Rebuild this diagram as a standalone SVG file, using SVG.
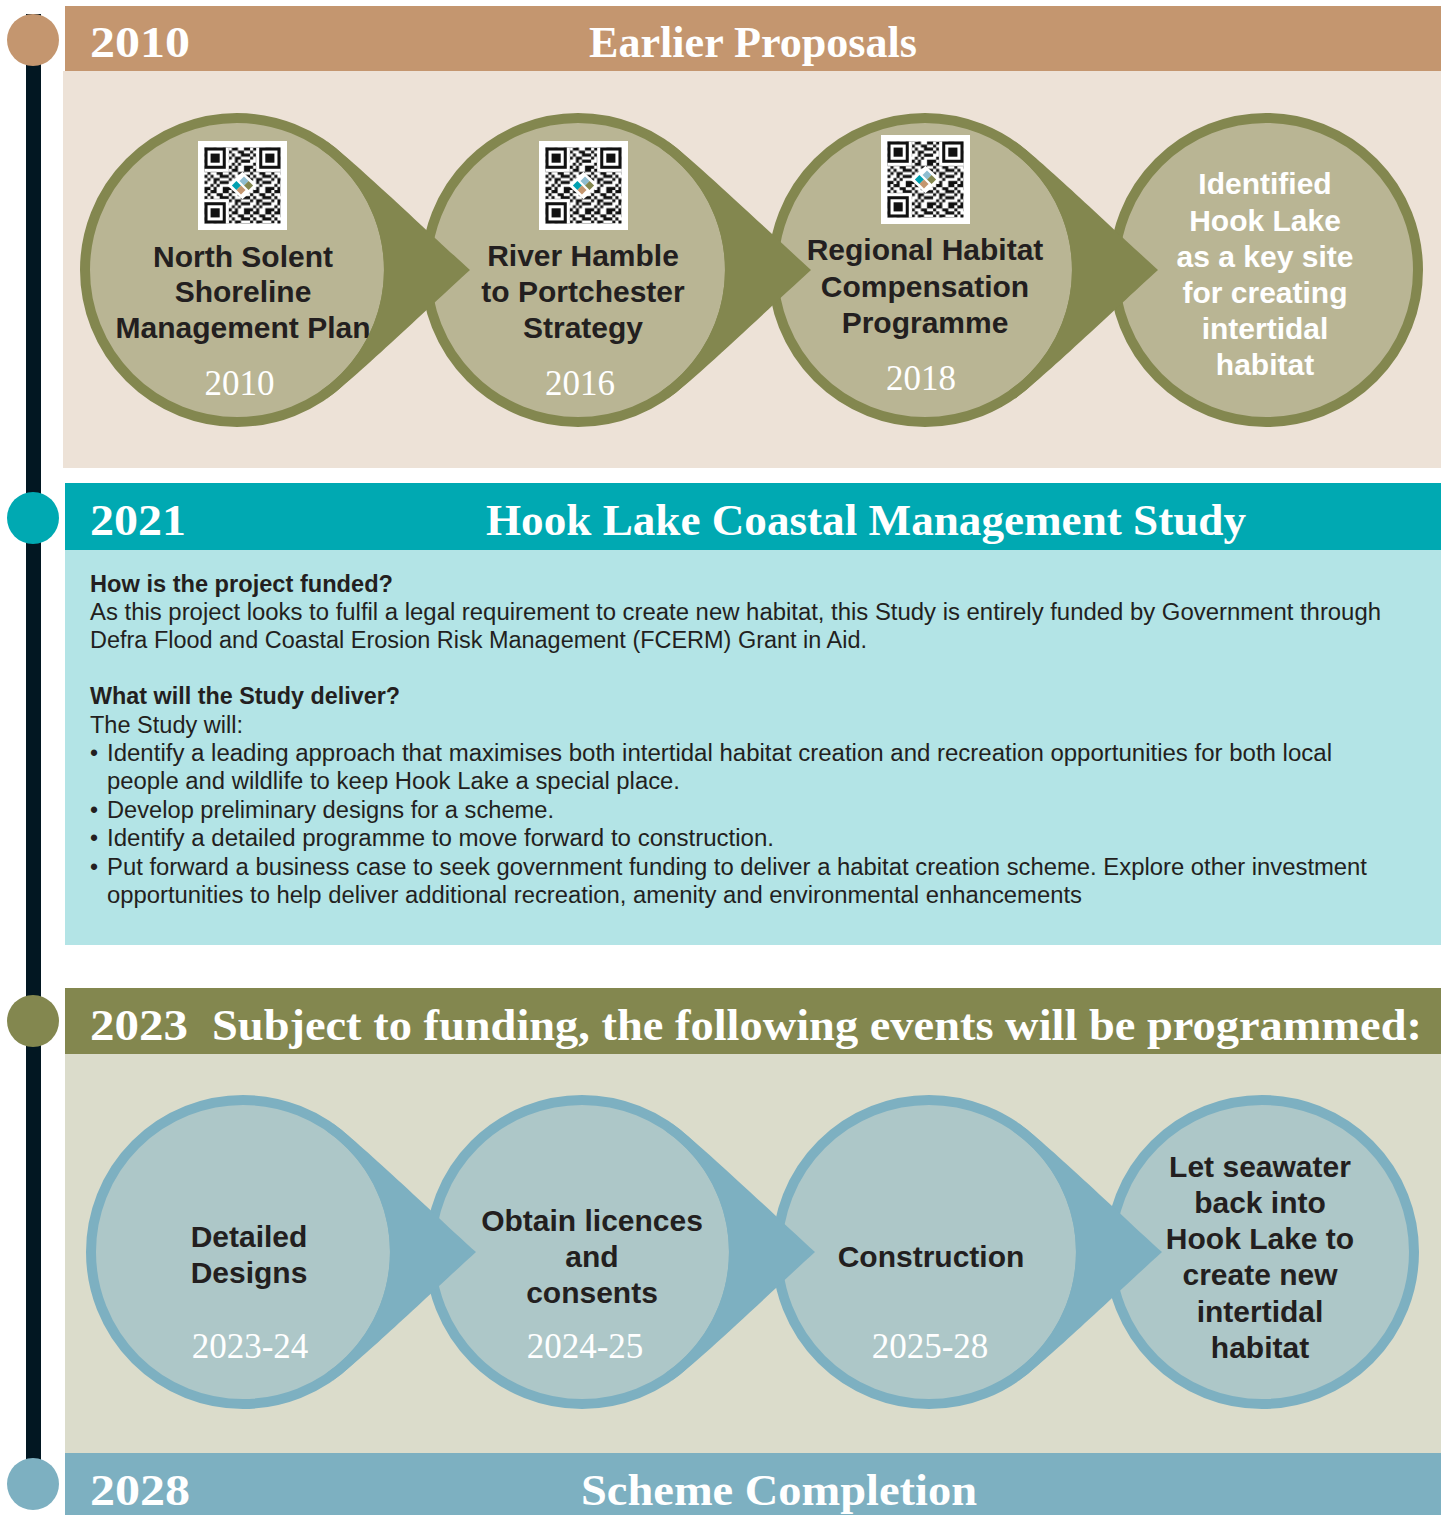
<svg xmlns="http://www.w3.org/2000/svg" xmlns:xlink="http://www.w3.org/1999/xlink" width="1447" height="1515" viewBox="0 0 1447 1515">
<style>
.hdr{font-family:"Liberation Serif","DejaVu Serif",serif;font-weight:bold;font-size:44px;fill:#fff}
.yr{font-family:"Liberation Serif","DejaVu Serif",serif;font-size:35px;fill:#fff;text-anchor:middle}
.lbl{font-family:"Liberation Sans",Arial,sans-serif;font-weight:bold;font-size:30px;fill:#231f20;text-anchor:middle}
.lblw{font-family:"Liberation Sans",Arial,sans-serif;font-weight:bold;font-size:30px;fill:#fff;text-anchor:middle}
.body{font-family:"Liberation Sans",Arial,sans-serif;font-size:23px;fill:#231f20}
.b{font-weight:bold}
.tc{fill:#b9b594;stroke:#83874f;stroke-width:10}
.bc{fill:#adc7c8;stroke:#7db0c1;stroke-width:10}
.tp{fill:#83874f}
.bp{fill:#7db0c1}
</style>
<defs>
<pattern id="qrd" patternUnits="userSpaceOnUse" width="7" height="7">
<path fill="#111" d="M0,0h1v1h-1z M2,0h2v1h-2z M6,0h1v1h-1z M1,1h1v1h-1z M4,1h2v1h-2z M0,2h1v1h-1z M2,2h1v1h-1z M5,2h2v1h-2z M1,3h1v1h-1z M3,3h2v1h-2z M0,4h1v1h-1z M3,4h1v1h-1z M5,4h2v1h-2z M2,5h1v1h-1z M4,5h1v1h-1z M0,6h2v1h-2z M3,6h1v1h-1z M6,6h1v1h-1z"/>
</pattern>
<symbol id="qr" viewBox="0 0 89 89">
<rect width="89" height="89" fill="#fff"/>
<g transform="translate(6.5,6.5) scale(3.04)">
<rect width="25" height="25" fill="url(#qrd)"/>
<rect width="8" height="8" fill="#fff"/>
<rect x="17" width="8" height="8" fill="#fff"/>
<rect y="17" width="8" height="8" fill="#fff"/>
<rect width="7" height="7" fill="#111"/><rect x="1" y="1" width="5" height="5" fill="#fff"/><rect x="2" y="2" width="3" height="3" fill="#111"/>
<rect x="18" width="7" height="7" fill="#111"/><rect x="19" y="1" width="5" height="5" fill="#fff"/><rect x="20" y="2" width="3" height="3" fill="#111"/>
<rect y="18" width="7" height="7" fill="#111"/><rect x="1" y="19" width="5" height="5" fill="#fff"/><rect x="2" y="20" width="3" height="3" fill="#111"/>
<polygon points="12.5,8 17.5,12.5 12.5,17 7.5,12.5" fill="#fff"/>
<polygon points="9,12.5 10.5,11 12,12.5 10.5,14" fill="#00a0b0"/>
<polygon points="11.5,11 13,9.5 14.5,11 13,12.5" fill="#8ebdd0"/>
<polygon points="13,12.5 14.5,11 16,12.5 14.5,14" fill="#83874f"/>
<polygon points="10.5,14 12,12.5 13.5,14 12,15.5" fill="#c4966f"/>
</g>
</symbol>
<path id="ptr" d="M90.05,-128.6 C115,-111 189,-40 233,0 C189,40 115,111 90.05,128.6 L84.3,120.4 A147,147 0 0 0 84.3,-120.4 Z"/>
</defs>

<rect width="1447" height="1515" fill="#fff"/>

<g id="timeline">
<rect x="26" y="14" width="15" height="1446" fill="#021722"/>
<circle cx="33" cy="40" r="26" fill="#c4966f"/>
<circle cx="33" cy="518" r="26" fill="#00a9b2"/>
<circle cx="33" cy="1021" r="26" fill="#83874f"/>
<circle cx="33" cy="1484" r="26" fill="#7db0c1"/>
</g>

<g id="section-2010">
<rect x="63" y="71" width="1378" height="397" fill="#ede2d7"/>
<rect x="65" y="6" width="1376" height="65" fill="#c4966f"/>
<text class="hdr" x="90" y="57" textLength="100" lengthAdjust="spacingAndGlyphs">2010</text>
<text class="hdr" x="589" y="57" textLength="328" lengthAdjust="spacingAndGlyphs">Earlier Proposals</text>
</g>

<g id="section-2021">
<rect x="65" y="550" width="1376" height="395" fill="#b3e4e6"/>
<rect x="65" y="483" width="1376" height="67" fill="#00a9b2"/>
<text class="hdr" x="90" y="535" textLength="96" lengthAdjust="spacingAndGlyphs">2021</text>
<text class="hdr" x="486" y="535" textLength="760" lengthAdjust="spacingAndGlyphs">Hook Lake Coastal Management Study</text>
<text class="body b" x="90" y="592" textLength="303" lengthAdjust="spacingAndGlyphs">How is the project funded?</text>
<text class="body" x="90" y="620" textLength="1291" lengthAdjust="spacingAndGlyphs">As this project looks to fulfil a legal requirement to create new habitat, this Study is entirely funded by Government through</text>
<text class="body" x="90" y="648" textLength="777" lengthAdjust="spacingAndGlyphs">Defra Flood and Coastal Erosion Risk Management (FCERM) Grant in Aid.</text>
<text class="body b" x="90" y="704" textLength="310" lengthAdjust="spacingAndGlyphs">What will the Study deliver?</text>
<text class="body" x="90" y="733" textLength="153" lengthAdjust="spacingAndGlyphs">The Study will:</text>
<text class="body" x="90" y="761">•</text>
<text class="body" x="107" y="761" textLength="1225" lengthAdjust="spacingAndGlyphs">Identify a leading approach that maximises both intertidal habitat creation and recreation opportunities for both local</text>
<text class="body" x="107" y="789" textLength="573" lengthAdjust="spacingAndGlyphs">people and wildlife to keep Hook Lake a special place.</text>
<text class="body" x="90" y="818">•</text>
<text class="body" x="107" y="818" textLength="447" lengthAdjust="spacingAndGlyphs">Develop preliminary designs for a scheme.</text>
<text class="body" x="90" y="846">•</text>
<text class="body" x="107" y="846" textLength="667" lengthAdjust="spacingAndGlyphs">Identify a detailed programme to move forward to construction.</text>
<text class="body" x="90" y="875">•</text>
<text class="body" x="107" y="875" textLength="1260" lengthAdjust="spacingAndGlyphs">Put forward a business case to seek government funding to deliver a habitat creation scheme. Explore other investment</text>
<text class="body" x="107" y="903" textLength="975" lengthAdjust="spacingAndGlyphs">opportunities to help deliver additional recreation, amenity and environmental enhancements</text>
</g>

<g id="section-2023">
<rect x="65" y="1054" width="1376" height="399" fill="#dbdccb"/>
<rect x="65" y="988" width="1376" height="66" fill="#83874f"/>
<text class="hdr" x="90" y="1040" textLength="98" lengthAdjust="spacingAndGlyphs">2023</text>
<text class="hdr" x="212" y="1040" textLength="1210" lengthAdjust="spacingAndGlyphs">Subject to funding, the following events will be programmed:</text>
</g>

<g id="section-2028">
<rect x="65" y="1453" width="1376" height="62" fill="#7db0c1"/>
<text class="hdr" x="90" y="1505" textLength="100" lengthAdjust="spacingAndGlyphs">2028</text>
<text class="hdr" x="581" y="1505" textLength="396" lengthAdjust="spacingAndGlyphs">Scheme Completion</text>
</g>

<g id="node-north-solent">
<circle class="tc" cx="237" cy="270" r="152"/>
<use xlink:href="#qr" href="#qr" x="198" y="141" width="89" height="89"/>
<text class="lbl" x="243" y="267">North Solent</text>
<text class="lbl" x="243" y="302">Shoreline</text>
<text class="lbl" x="243" y="338">Management Plan</text>
<text class="yr" x="239.5" y="395">2010</text>
</g>
<g id="node-river-hamble">
<circle class="tc" cx="578" cy="270" r="152"/>
<use xlink:href="#qr" href="#qr" x="539" y="141" width="89" height="89"/>
<text class="lbl" x="583" y="266">River Hamble</text>
<text class="lbl" x="583" y="302">to Portchester</text>
<text class="lbl" x="583" y="338">Strategy</text>
<text class="yr" x="580" y="395">2016</text>
</g>
<g id="node-regional-habitat">
<circle class="tc" cx="925" cy="270" r="152"/>
<use xlink:href="#qr" href="#qr" x="881" y="135" width="89" height="89"/>
<text class="lbl" x="925" y="260">Regional Habitat</text>
<text class="lbl" x="925" y="297">Compensation</text>
<text class="lbl" x="925" y="333">Programme</text>
<text class="yr" x="921" y="390">2018</text>
</g>
<g id="node-identified">
<circle class="tc" cx="1266" cy="270" r="152"/>
<text class="lblw" x="1265" y="194">Identified</text>
<text class="lblw" x="1265" y="231">Hook Lake</text>
<text class="lblw" x="1265" y="267">as a key site</text>
<text class="lblw" x="1265" y="303">for creating</text>
<text class="lblw" x="1265" y="339">intertidal</text>
<text class="lblw" x="1265" y="375">habitat</text>
</g>

<g id="node-detailed-designs">
<circle class="bc" cx="243" cy="1252" r="152"/>
<text class="lbl" x="249" y="1247">Detailed</text>
<text class="lbl" x="249" y="1283">Designs</text>
<text class="yr" x="250" y="1358">2023-24</text>
</g>
<g id="node-licences">
<circle class="bc" cx="582" cy="1252" r="152"/>
<text class="lbl" x="592" y="1231">Obtain licences</text>
<text class="lbl" x="592" y="1267">and</text>
<text class="lbl" x="592" y="1303">consents</text>
<text class="yr" x="585" y="1358">2024-25</text>
</g>
<g id="node-construction">
<circle class="bc" cx="929" cy="1252" r="152"/>
<text class="lbl" x="931" y="1267">Construction</text>
<text class="yr" x="930" y="1358">2025-28</text>
</g>
<g id="node-seawater">
<circle class="bc" cx="1262" cy="1252" r="152"/>
<text class="lbl" x="1260" y="1177">Let seawater</text>
<text class="lbl" x="1260" y="1213">back into</text>
<text class="lbl" x="1260" y="1249">Hook Lake to</text>
<text class="lbl" x="1260" y="1285">create new</text>
<text class="lbl" x="1260" y="1322">intertidal</text>
<text class="lbl" x="1260" y="1358">habitat</text>
</g>

<g id="connectors">
<use xlink:href="#ptr" href="#ptr" class="tp" transform="translate(237,270)"/>
<use xlink:href="#ptr" href="#ptr" class="tp" transform="translate(578,270)"/>
<use xlink:href="#ptr" href="#ptr" class="tp" transform="translate(925,270)"/>
<use xlink:href="#ptr" href="#ptr" class="bp" transform="translate(243,1252)"/>
<use xlink:href="#ptr" href="#ptr" class="bp" transform="translate(582,1252)"/>
<use xlink:href="#ptr" href="#ptr" class="bp" transform="translate(929,1252)"/>
</g>
</svg>
